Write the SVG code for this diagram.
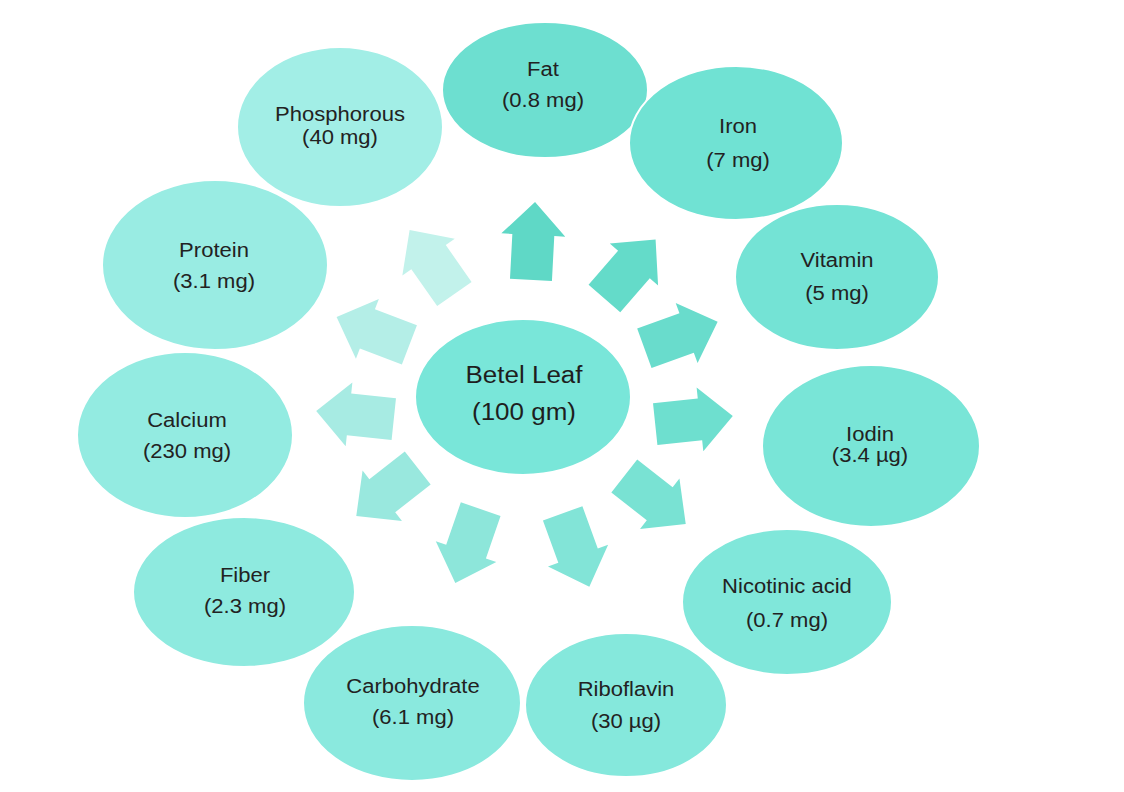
<svg xmlns="http://www.w3.org/2000/svg" xmlns:xlink="http://www.w3.org/1999/xlink" width="1124" height="792" viewBox="0 0 1124 792">
<style>
.e{stroke:#ffffff;stroke-width:2}
.t{font-family:"Liberation Sans",Arial,sans-serif;font-size:19.5px;fill:#222;text-anchor:middle}
.c{font-family:"Liberation Sans",Arial,sans-serif;font-size:23px;fill:#1e1e1e;text-anchor:middle}
</style>
<defs>
<polygon id="arr" points="0,-39 32,-6 21,-6 21,39 -21,39 -21,-6 -32,-6"/>
</defs>
<rect width="1124" height="792" fill="#ffffff"/>
<g id="connectors">
<use xlink:href="#arr" href="#arr" transform="translate(533,241) rotate(3)" fill="#5fd8c6"/>
<use xlink:href="#arr" href="#arr" transform="translate(630,269) rotate(41)" fill="#64dbc9"/>
<use xlink:href="#arr" href="#arr" transform="translate(681,335) rotate(70)" fill="#69dccc"/>
<use xlink:href="#arr" href="#arr" transform="translate(694,420) rotate(84)" fill="#6edfcf"/>
<use xlink:href="#arr" href="#arr" transform="translate(655,500) rotate(128)" fill="#79e2d3"/>
<use xlink:href="#arr" href="#arr" transform="translate(576,550) rotate(160)" fill="#82e4d7"/>
<use xlink:href="#arr" href="#arr" transform="translate(468,546) rotate(199)" fill="#8de6da"/>
<use xlink:href="#arr" href="#arr" transform="translate(387,492) rotate(232)" fill="#99e8de"/>
<use xlink:href="#arr" href="#arr" transform="translate(355,415) rotate(276)" fill="#a7ebe3"/>
<use xlink:href="#arr" href="#arr" transform="translate(373,331) rotate(291)" fill="#b4eee7"/>
<use xlink:href="#arr" href="#arr" transform="translate(432,262) rotate(325)" fill="#c2f2eb"/>
</g>
<g id="center">
<ellipse class="e" cx="523" cy="397" rx="108" ry="78" fill="#79e6d9"/>
<text class="c" transform="translate(524,383) scale(1.13,1)">Betel Leaf</text>
<text class="c" transform="translate(524,420) scale(1.13,1)">(100 gm)</text>
</g>
<g id="phosphorous">
<ellipse class="e" cx="340" cy="127" rx="103" ry="80" fill="#a2eee6"/>
<text class="t" transform="translate(340,121) scale(1.13,1)">Phosphorous</text>
<text class="t" transform="translate(340,144) scale(1.13,1)">(40 mg)</text>
</g>
<g id="protein">
<ellipse class="e" cx="215" cy="265" rx="113" ry="85" fill="#99ece3"/>
<text class="t" transform="translate(214,257) scale(1.13,1)">Protein</text>
<text class="t" transform="translate(214,288) scale(1.13,1)">(3.1 mg)</text>
</g>
<g id="calcium">
<ellipse class="e" cx="185" cy="435" rx="108" ry="83" fill="#93ebe1"/>
<text class="t" transform="translate(187,427) scale(1.13,1)">Calcium</text>
<text class="t" transform="translate(187,458) scale(1.13,1)">(230 mg)</text>
</g>
<g id="fiber">
<ellipse class="e" cx="244" cy="592" rx="111" ry="75" fill="#8eeadf"/>
<text class="t" transform="translate(245,582) scale(1.13,1)">Fiber</text>
<text class="t" transform="translate(245,613) scale(1.13,1)">(2.3 mg)</text>
</g>
<g id="carbohydrate">
<ellipse class="e" cx="412" cy="703" rx="109" ry="78" fill="#8ae9de"/>
<text class="t" transform="translate(413,693) scale(1.13,1)">Carbohydrate</text>
<text class="t" transform="translate(413,724) scale(1.13,1)">(6.1 mg)</text>
</g>
<g id="riboflavin">
<ellipse class="e" cx="626" cy="705" rx="101" ry="72" fill="#85e8dc"/>
<text class="t" transform="translate(626,696) scale(1.13,1)">Riboflavin</text>
<text class="t" transform="translate(626,728) scale(1.13,1)">(30 µg)</text>
</g>
<g id="nicotinic">
<ellipse class="e" cx="787" cy="602" rx="105" ry="73" fill="#80e7da"/>
<text class="t" transform="translate(787,593) scale(1.13,1)">Nicotinic acid</text>
<text class="t" transform="translate(787,627) scale(1.13,1)">(0.7 mg)</text>
</g>
<g id="iodin">
<ellipse class="e" cx="871" cy="446" rx="109" ry="81" fill="#79e5d7"/>
<text class="t" transform="translate(870,441) scale(1.13,1)">Iodin</text>
<text class="t" transform="translate(870,462) scale(1.13,1)">(3.4 µg)</text>
</g>
<g id="vitamin">
<ellipse class="e" cx="837" cy="277" rx="102" ry="73" fill="#74e3d5"/>
<text class="t" transform="translate(837,267) scale(1.13,1)">Vitamin</text>
<text class="t" transform="translate(837,300) scale(1.13,1)">(5 mg)</text>
</g>
<g id="fat">
<ellipse class="e" cx="545" cy="90" rx="103" ry="68" fill="#6ddfd0"/>
<text class="t" transform="translate(543,76) scale(1.13,1)">Fat</text>
<text class="t" transform="translate(543,107) scale(1.13,1)">(0.8 mg)</text>
</g>
<g id="iron">
<ellipse class="e" cx="736" cy="143" rx="107" ry="77" fill="#70e2d3"/>
<text class="t" transform="translate(738,133) scale(1.13,1)">Iron</text>
<text class="t" transform="translate(738,167) scale(1.13,1)">(7 mg)</text>
</g>
</svg>
